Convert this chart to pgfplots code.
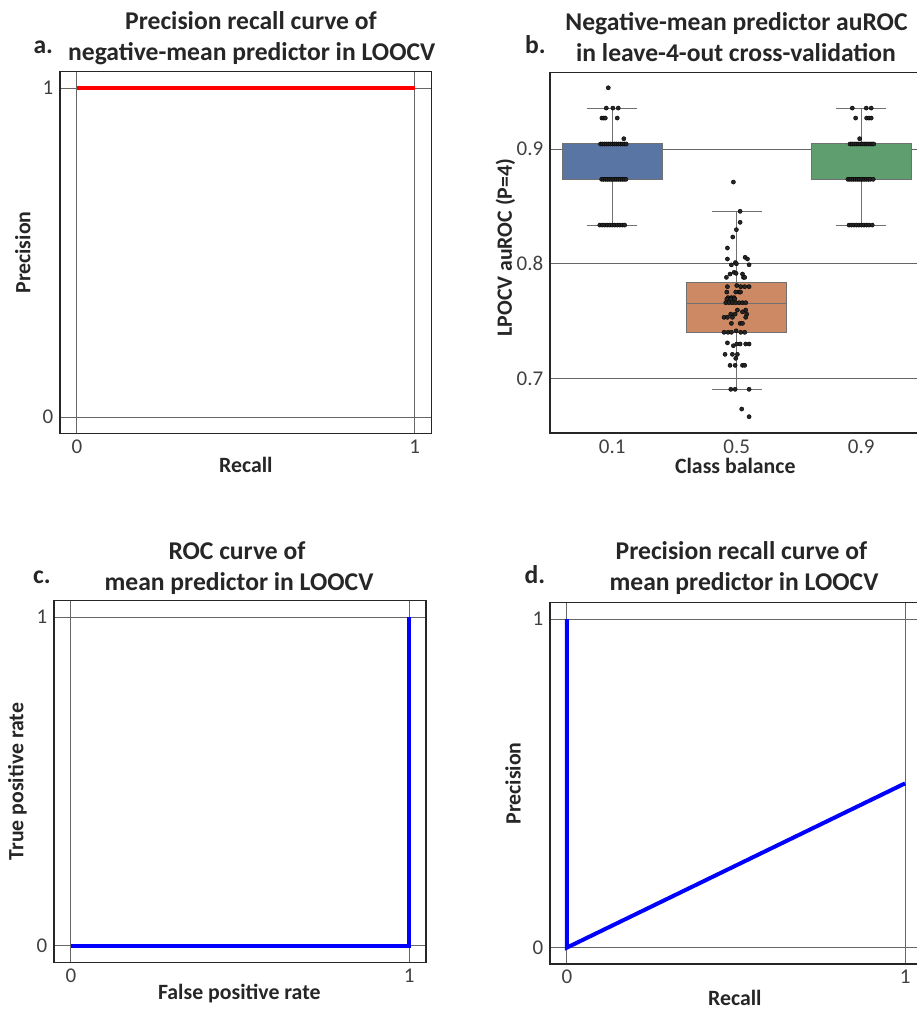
\documentclass[border=0pt]{standalone}
\usepackage{fontspec}
\setmainfont{Carlito}
\usepackage{pgfplots}
\pgfplotsset{compat=1.18}
\usepgfplotslibrary{statistics}
\definecolor{sbblue}{HTML}{5975A4}
\definecolor{sborange}{HTML}{CC8963}
\definecolor{sbgreen}{HTML}{5F9E6E}
\definecolor{edgegray}{HTML}{707070}
\definecolor{gridgray}{HTML}{666666}

\pgfplotsset{
  panel/.style={
    scale only axis,
    axis line style={draw=black!85, line width=1.1bp},
    major tick length=0pt, tick style={draw=none},
    grid=major, major grid style={draw=gridgray, line width=0.9bp},
    xmin=-0.05, xmax=1.05, ymin=-0.05, ymax=1.05,
    xtick={0,1}, ytick={0,1}, xticklabels={0,1}, yticklabels={0,1},
    ticklabel style={font=\fontsize{21bp}{23bp}\selectfont, text=black!75},
    xticklabel style={anchor=center, yshift=-13bp},
    yticklabel style={anchor=east, inner sep=0pt, xshift=-6.5bp},
    label style={font=\fontsize{21.8bp}{24bp}\selectfont\bfseries, text=black!85, inner sep=1bp},
    xlabel style={anchor=center},
    ylabel style={anchor=center},
  },
}
\tikzset{ttl/.style={font=\fontsize{25.6bp}{30bp}\selectfont\bfseries, text=black!85, anchor=base, inner sep=0pt}}

\begin{document}
\begin{tikzpicture}
\useasboundingbox (0,0) rectangle (917bp,-1009bp);

% ---------------- panel a ----------------
\begin{axis}[panel, at={(60bp,-71.7bp)}, anchor=north west,
  width=371.7bp, height=361.7bp,
  xlabel={Recall}, ylabel={Precision},
  xlabel style={at={(axis description cs:0.5,-0.0877)}},
  ylabel style={at={(axis description cs:-0.1,0.5)}}]
\addplot[color=red, line width=4bp] coordinates {(0,1) (1,1)};
\end{axis}
\node[ttl] at (251bp,-29.3bp) {Precision recall curve of};
\node[ttl] at (251.7bp,-60bp) {negative-mean predictor in LOOCV};
\node[ttl, anchor=base west] at (33.3bp,-53.3bp) {a.};

% ---------------- panel b ----------------
\begin{axis}[panel, at={(550bp,-72.3bp)}, anchor=north west,
  width=373.5bp, height=360.7bp,
  xmin=-0.5, xmax=2.5, ymin=0.6524, ymax=0.9669,
  xtick={0,1,2}, xticklabels={0.1,0.5,0.9},
  ytick={0.7,0.8,0.9}, yticklabels={0.7,0.8,0.9},
  xmajorgrids=false, ymajorgrids=true,
  boxplot/draw direction=y,
  xlabel={Class balance}, ylabel={LPOCV auROC (P=4)},
  xlabel style={at={(axis description cs:0.496,-0.091)}},
  ylabel style={at={(axis description cs:-0.119,0.514)}},
  xticklabel style={yshift=-0.7bp}]
\addplot[boxplot prepared={draw position=0, lower whisker=0.8337, lower quartile=0.8736,
  median=0.9044, upper quartile=0.9044, upper whisker=0.9357, box extend=0.8, whisker extend=0.4},
  draw=edgegray, fill=sbblue, line width=1bp] coordinates {};
\addplot[boxplot prepared={draw position=1, lower whisker=0.6904, lower quartile=0.7398,
  median=0.7654, upper quartile=0.7834, upper whisker=0.8456, box extend=0.8, whisker extend=0.4},
  draw=edgegray, fill=sborange, line width=1bp] coordinates {};
\addplot[boxplot prepared={draw position=2, lower whisker=0.8337, lower quartile=0.8736,
  median=0.9044, upper quartile=0.9044, upper whisker=0.9357, box extend=0.8, whisker extend=0.4},
  draw=edgegray, fill=sbgreen, line width=1bp] coordinates {};
% strip points, class balance 0.1
\addplot[only marks, mark=*, mark size=2.1bp, mark options={fill=black!85, draw=none}] coordinates {
(-0.032,0.9534)
(-0.048,0.9357) (0.005,0.9357) (0.048,0.9357)
(-0.083,0.927) (-0.068,0.927) (-0.056,0.927) (0.040,0.927)
(0.093,0.909)
(-0.094,0.9044) (-0.078,0.9044) (-0.062,0.9044) (-0.046,0.9044) (-0.030,0.9044) (-0.014,0.9044)
(0.002,0.9044) (0.018,0.9044) (0.034,0.9044) (0.050,0.9044) (0.066,0.9044) (0.082,0.9044) (0.098,0.9044) (0.112,0.9044)
(-0.085,0.8736) (-0.070,0.8736) (-0.055,0.8736) (-0.040,0.8736) (-0.025,0.8736) (-0.010,0.8736)
(0.005,0.8736) (0.020,0.8736) (0.035,0.8736) (0.050,0.8736) (0.065,0.8736) (0.080,0.8736) (0.095,0.8736) (0.110,0.8736)
(-0.100,0.8337) (-0.080,0.8337) (-0.060,0.8337) (-0.040,0.8337) (-0.020,0.8337) (0.000,0.8337)
(0.020,0.8337) (0.040,0.8337) (0.060,0.8337) (0.080,0.8337) (0.100,0.8337)
};
% strip points, class balance 0.5
\addplot[only marks, mark=*, mark size=2.1bp, mark options={fill=black!85, draw=none}] coordinates {
(0.973,0.8712) (1.027,0.8457) (1.027,0.8361) (0.997,0.8297) (0.968,0.8233) (0.925,0.8137)
(0.925,0.8041) (1.067,0.8056) (1.086,0.8041) (1.099,0.7991)
(0.957,0.7990) (0.989,0.8010) (0.997,0.8000)
(0.917,0.7881) (0.946,0.7910) (0.979,0.7925) (0.995,0.7916) (1.046,0.7910) (1.054,0.7881) (1.064,0.7881)
(0.925,0.7800) (1.000,0.7810) (1.032,0.7800) (1.064,0.7800) (1.099,0.7800)
(0.920,0.7753) (0.992,0.7753) (1.019,0.7753) (1.030,0.7753)
(0.930,0.7704) (0.957,0.7704) (0.979,0.7704)
(0.920,0.7692) (0.952,0.7692) (0.984,0.7692)
(0.912,0.7660) (0.938,0.7660) (0.965,0.7660) (0.992,0.7660) (1.019,0.7660) (1.046,0.7660) (1.072,0.7660)
(1.005,0.7596) (1.072,0.7596)
(0.952,0.7561) (0.987,0.7561) (1.046,0.7580) (1.080,0.7561)
(0.898,0.7533) (0.925,0.7533) (0.965,0.7533) (1.072,0.7533)
(0.957,0.7480) (1.027,0.7480) (1.046,0.7480)
(0.898,0.7402) (0.930,0.7402) (0.957,0.7402) (0.995,0.7415) (1.032,0.7402) (1.064,0.7402)
(0.925,0.7310) (0.973,0.7285) (1.000,0.7300) (1.027,0.7300) (1.072,0.7300) (1.099,0.7300)
(0.906,0.7210) (0.965,0.7210) (1.005,0.7210)
(0.992,0.7175)
(0.946,0.7114) (0.987,0.7114) (1.046,0.7114) (1.064,0.7114)
(0.952,0.6905) (0.987,0.6905) (1.099,0.6905)
(1.040,0.6733) (1.099,0.6666)
};
% strip points, class balance 0.9
\addplot[only marks, mark=*, mark size=2.1bp, mark options={fill=black!85, draw=none}] coordinates {
(1.928,0.9357) (2.040,0.9357) (2.080,0.9357)
(1.955,0.927) (2.043,0.927) (2.062,0.927) (2.080,0.927)
(1.987,0.909)
(1.910,0.9044) (1.926,0.9044) (1.942,0.9044) (1.958,0.9044) (1.974,0.9044) (1.990,0.9044)
(2.006,0.9044) (2.022,0.9044) (2.038,0.9044) (2.054,0.9044) (2.070,0.9044) (2.086,0.9044) (2.100,0.9044)
(1.893,0.8736) (1.908,0.8736) (1.923,0.8736) (1.938,0.8736) (1.953,0.8736) (1.968,0.8736)
(1.983,0.8736) (1.998,0.8736) (2.013,0.8736) (2.028,0.8736) (2.043,0.8736) (2.058,0.8736) (2.073,0.8736) (2.096,0.8736)
(1.902,0.8337) (1.922,0.8337) (1.942,0.8337) (1.962,0.8337) (1.982,0.8337) (2.002,0.8337)
(2.022,0.8337) (2.042,0.8337) (2.062,0.8337) (2.088,0.8337)
};
\end{axis}
\node[ttl] at (736.5bp,-30.7bp) {Negative-mean predictor auROC};
\node[ttl] at (736bp,-61.7bp) {in leave-4-out cross-validation};
\node[ttl, anchor=base west] at (525bp,-53.3bp) {b.};

% ---------------- panel c ----------------
\begin{axis}[panel, at={(54bp,-600.7bp)}, anchor=north west,
  width=372bp, height=361.6bp,
  xlabel={False positive rate}, ylabel={True positive rate},
  xlabel style={at={(axis description cs:0.498,-0.0857)}},
  ylabel style={at={(axis description cs:-0.098,0.5)}}]
\addplot[color=blue, line width=4bp] coordinates {(0,0) (1,0) (1,1)};
\end{axis}
\node[ttl] at (237bp,-559.3bp) {ROC curve of};
\node[ttl] at (239bp,-590bp) {mean predictor in LOOCV};
\node[ttl, anchor=base west] at (33bp,-583.3bp) {c.};

% ---------------- panel d ----------------
\begin{axis}[panel, at={(550bp,-602.7bp)}, anchor=north west,
  width=372bp, height=361.3bp,
  xlabel={Recall}, ylabel={Precision},
  xlabel style={at={(axis description cs:0.497,-0.093)}},
  ylabel style={at={(axis description cs:-0.099,0.5)}}]
\addplot[color=blue, line width=4bp] coordinates {(0,1) (0,0) (1,0.5)};
\end{axis}
\node[ttl] at (741.5bp,-559.3bp) {Precision recall curve of};
\node[ttl] at (744bp,-590bp) {mean predictor in LOOCV};
\node[ttl, anchor=base west] at (524.3bp,-583.3bp) {d.};
\end{tikzpicture}
\end{document}
